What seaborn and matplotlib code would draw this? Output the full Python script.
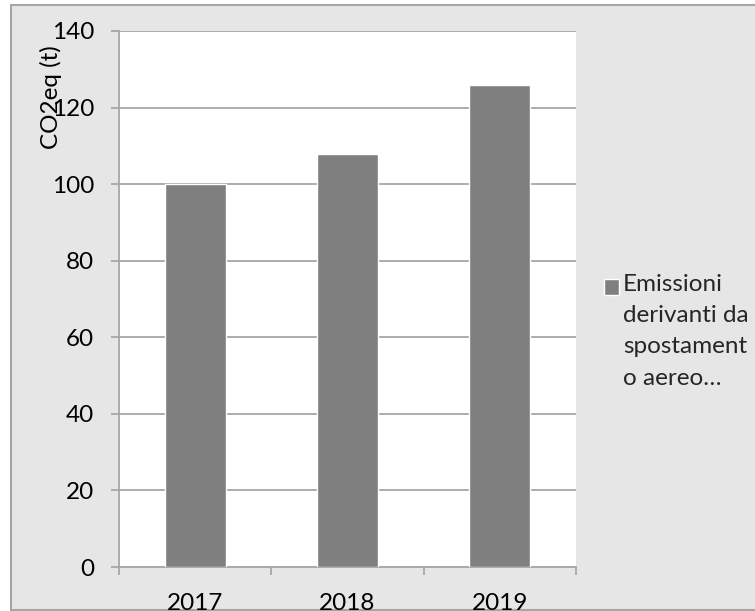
import matplotlib
matplotlib.use("Agg")
import matplotlib.pyplot as plt
from matplotlib.patches import Rectangle
from matplotlib.legend_handler import HandlerPatch
import seaborn as sns
import pandas as pd

# Emissions from business air travel, tonnes CO2eq
years = ["2017", "2018", "2019"]
emissions = [100, 108, 126]
series_label = "Emissioni\nderivanti da\nspostament\no aereo…"
y_ticks = [0, 20, 40, 60, 80, 100, 120, 140]

sns.set_theme(style="white")
plt.rcParams["font.family"] = ["Lato", "DejaVu Sans"]

BAR = "#7f7f7f"
LINE = "#a6a6a6"
PANEL = "#e6e6e6"
FS = 17.5

df = pd.DataFrame({"anno": years, "co2": emissions, "serie": series_label})

fig = plt.figure(figsize=(7.55, 6.11), dpi=100, facecolor="white")
W, H = 755, 611

# chart area background with border
fig.patches.append(Rectangle((11 / W, 1 - 610 / H), (W - 11) / W + 0.01, (610 - 5) / H,
                             transform=fig.transFigure, facecolor=PANEL,
                             edgecolor=LINE, linewidth=1.5, zorder=-10))

ax = fig.add_axes([119 / W, 1 - 567 / H, 457 / W, 536 / H])
ax.set_facecolor("white")

sns.barplot(data=df, x="anno", y="co2", hue="serie", palette=[BAR],
            width=0.4, saturation=1, ax=ax, zorder=3, legend=True)

ax.set_ylim(0, 140)
ax.set_xlim(-0.5, 2.5)
ax.set_yticks(y_ticks)
ax.yaxis.grid(True, color=LINE, linewidth=1.3, zorder=0)
ax.set_axisbelow(True)

for s in ("top", "right"):
    ax.spines[s].set_visible(False)
for s in ("left", "bottom"):
    ax.spines[s].set_color(LINE)
    ax.spines[s].set_linewidth(1.3)

ax.tick_params(axis="y", which="major", length=6, width=1.3, color=LINE,
               direction="out", pad=12, labelsize=FS, labelcolor="black", left=True)
ax.tick_params(axis="x", which="major", length=0, pad=19, labelsize=FS, labelcolor="black")
ax.set_xticks([-0.5, 0.5, 1.5, 2.5], minor=True)
ax.tick_params(axis="x", which="minor", length=6, width=1.3, color=LINE,
               direction="out", bottom=True)

ax.set_xlabel("")
ax.set_ylabel("CO2eq (t)", fontsize=FS, color="black")
ax.yaxis.set_label_coords(-0.125, 0.877)


# square legend key sitting next to the first line of a wrapped label
def square_key(legend, orig_handle, xdescent, ydescent, width, height, fontsize):
    side = width
    return Rectangle((-xdescent, -ydescent + height - 0.22 * fontsize - side), side, side)


handles, labels = ax.get_legend_handles_labels()
ax.get_legend().remove() if ax.get_legend() else None
handles = [h[0] if isinstance(h, tuple) else h for h in handles]

leg = ax.legend(handles, labels, loc="upper left",
                bbox_to_anchor=(604 / W, 1 - 274 / H),
                bbox_transform=fig.transFigure, frameon=False, fontsize=FS,
                handlelength=0.63, handleheight=1.0, handletextpad=0.15,
                borderpad=0, borderaxespad=0,
                handler_map={Rectangle: HandlerPatch(patch_func=square_key)})
for col in leg._legend_handle_box.get_children():
    for item in col.get_children():
        item.align = "top"
for t in leg.get_texts():
    t.set_linespacing(1.6)

fig.savefig("out.png", dpi=100, facecolor="white")
